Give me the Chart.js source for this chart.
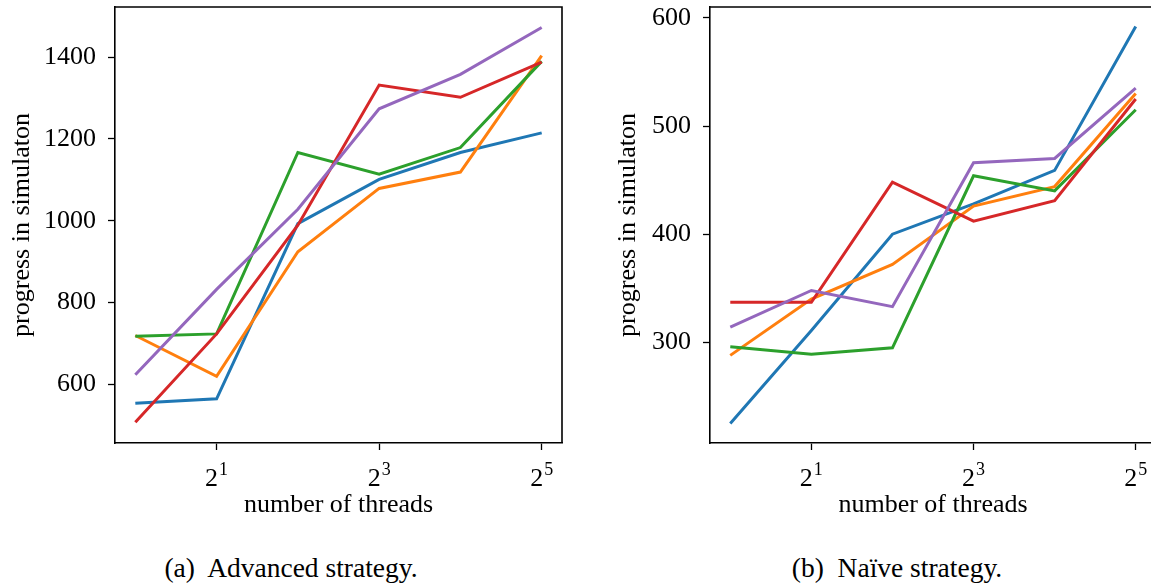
<!DOCTYPE html>
<html>
<head>
<meta charset="utf-8">
<script src="https://cdn.jsdelivr.net/npm/chart.js@4.4.1/dist/chart.umd.min.js"></script>
<style>
  html, body { margin: 0; padding: 0; background: #fff; overflow: hidden; width: 1151px; height: 583px; }
  canvas { position: absolute; top: 0; }
  #c1 { left: 0px; }
  #c2 { left: 590px; }
  .cap { position: absolute; font-family: "Liberation Serif", "DejaVu Serif", serif; font-size: 27.5px; line-height: 30px; color: #000; white-space: pre; transform: translateX(-50%); top: 553px; }
</style>
</head>
<body>
<canvas id="c1" width="575" height="523"></canvas>
<canvas id="c2" width="580" height="523"></canvas>
<div class="cap" style="left:291px">(a)  Advanced strategy.</div>
<div class="cap" style="left:897px">(b)  Naïve strategy.</div>
<script>
// ---- data ----
const threads = [1, 2, 4, 8, 16, 32];
const xTickValues = [2, 8, 32];
const xTickBase = "2";
const xTickExps = ["1", "3", "5"];

// (a) Advanced strategy
const advBlue   = [553, 564, 993, 1101, 1167, 1215];
const advOrange = [719, 619, 924, 1079, 1119, 1404];
const advGreen  = [717, 723, 1167, 1114, 1179, 1390];
const advRed    = [507, 723, 989, 1332, 1302, 1388];
const advPurple = [623, 832, 1028, 1274, 1358, 1473];
const advYTicks = [600, 800, 1000, 1200, 1400];

// (b) Naive strategy
const naiBlue   = [225, 311, 400, 428, 459, 592];
const naiOrange = [288, 340, 372, 426, 444, 530];
const naiGreen  = [296, 289, 295, 454, 440, 515];
const naiRed    = [337, 337, 448, 412, 431, 525];
const naiPurple = [314, 348, 333, 466, 470, 535];
const naiYTicks = [300, 400, 500, 600];

const colors = ["#1f77b4", "#ff7f0e", "#2ca02c", "#d62728", "#9467bd"];
const FONT = "Liberation Serif";
const FS = 26;

const framePlugin = {
  id: 'frame',
  afterDraw(chart) {
    const {ctx, chartArea: a} = chart;
    ctx.save();
    ctx.strokeStyle = '#000';
    ctx.lineWidth = 1.6;
    ctx.beginPath();
    ctx.moveTo(a.left, a.top);
    ctx.lineTo(a.right, a.top);
    ctx.lineTo(a.right, a.bottom);
    ctx.stroke();
    // power-of-two tick labels with superscript exponent
    const xs = chart.scales.x;
    ctx.fillStyle = '#000';
    ctx.textBaseline = 'alphabetic';
    ctx.textAlign = 'left';
    xTickValues.forEach((v, i) => {
      const px = xs.getPixelForValue(v);
      ctx.font = FS + 'px "' + FONT + '"';
      const wb = ctx.measureText(xTickBase).width;
      ctx.font = '18px "' + FONT + '"';
      const we = ctx.measureText(xTickExps[i]).width;
      const x0 = px - (wb + we + 1) / 2;
      ctx.font = FS + 'px "' + FONT + '"';
      ctx.fillText(xTickBase, x0, a.bottom + 43);
      ctx.font = '18px "' + FONT + '"';
      ctx.fillText(xTickExps[i], x0 + wb + 1, a.bottom + 32);
    });
    ctx.restore();
  }
};

function zeroPad(scale) {
  scale.paddingTop = 0; scale.paddingBottom = 0;
  scale.paddingLeft = 0; scale.paddingRight = 0;
}

function makeChart(id, seriesList, yMin, yMax, yTicks, yWidth, padRight, yTitlePad) {
  const datasets = seriesList.map((vals, i) => ({
    data: vals.map((v, k) => ({x: threads[k], y: v})),
    borderColor: colors[i],
    backgroundColor: colors[i],
    borderWidth: 3,
    pointRadius: 0,
    fill: false,
    tension: 0,
    order: seriesList.length - i
  }));
  return new Chart(document.getElementById(id), {
    type: 'line',
    data: { datasets },
    plugins: [framePlugin],
    options: {
      responsive: false,
      animation: false,
      events: [],
      layout: { padding: { top: 7, right: padRight, left: 0, bottom: 0 } },
      plugins: { legend: { display: false }, tooltip: { enabled: false }, title: { display: false } },
      scales: {
        x: {
          type: 'logarithmic',
          min: Math.pow(2, -0.25),
          max: Math.pow(2, 5.25),
          afterBuildTicks(scale) { scale.ticks = xTickValues.map(v => ({ value: v })); },
          afterFit(scale) { scale.height = 80; zeroPad(scale); },
          ticks: {
            autoSkip: false,
            maxRotation: 0,
            padding: 10,
            color: '#000',
            font: { family: FONT, size: FS },
            callback() { return ''; }
          },
          grid: { display: true, drawOnChartArea: false, drawTicks: true, tickLength: 7, tickColor: '#000', tickWidth: 1.3 },
          border: { display: true, color: '#000', width: 1.6 },
          title: { display: true, text: 'number of threads', color: '#000', font: { family: FONT, size: FS }, padding: { top: 0, bottom: 2 } }
        },
        y: {
          type: 'linear',
          min: yMin,
          max: yMax,
          afterBuildTicks(scale) { scale.ticks = yTicks.map(v => ({ value: v })); },
          afterFit(scale) { scale.width = yWidth; zeroPad(scale); },
          ticks: { padding: 12, color: '#000', font: { family: FONT, size: FS }, callback(value) { return String(value); } },
          grid: { display: true, drawOnChartArea: false, drawTicks: true, tickLength: 7, tickColor: '#000', tickWidth: 1.3 },
          border: { display: true, color: '#000', width: 1.6 },
          title: { display: true, text: 'progress in simulaton', color: '#000', font: { family: FONT, size: FS }, padding: { top: yTitlePad, bottom: 0 } }
        }
      }
    }
  });
}

makeChart('c1', [advBlue, advOrange, advGreen, advRed, advPurple], 456, 1523, advYTicks, 115, 13, 7);
makeChart('c2', [naiBlue, naiOrange, naiGreen, naiRed, naiPurple], 207, 610, naiYTicks, 120, 14, 23);
</script>
</body>
</html>
